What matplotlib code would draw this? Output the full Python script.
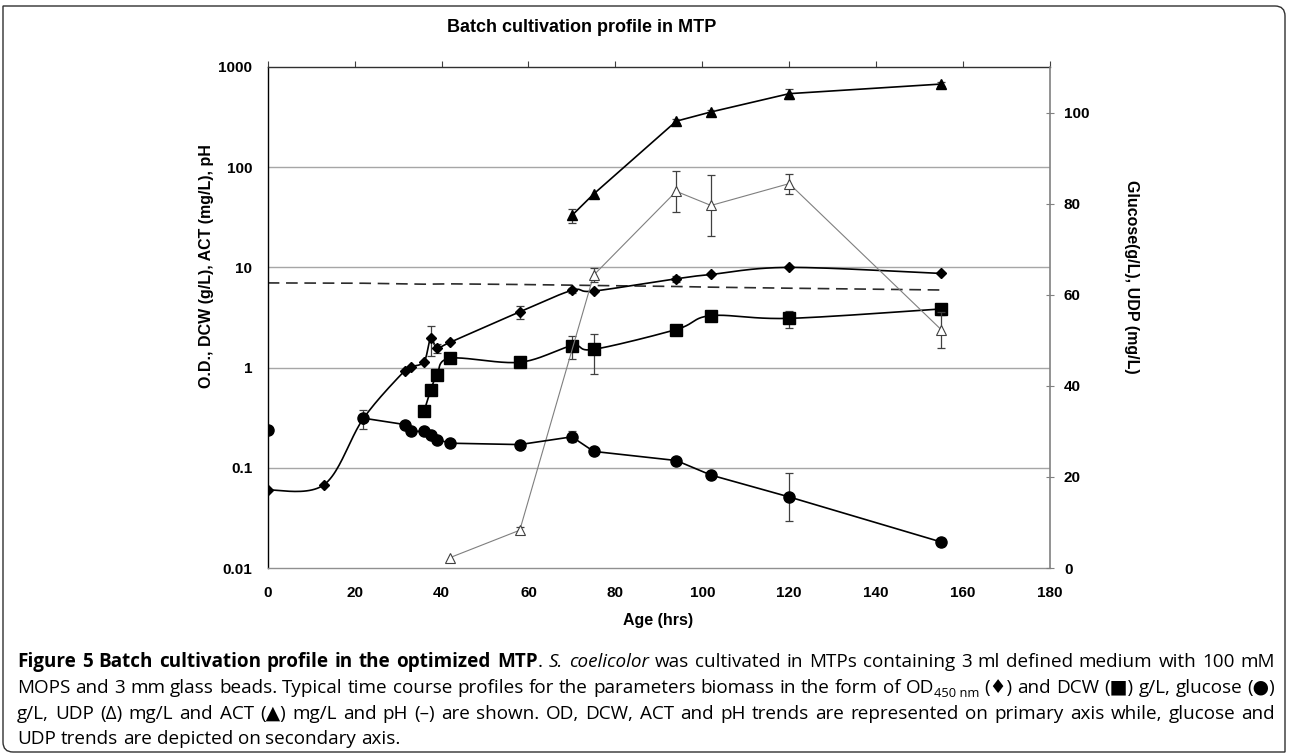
import numpy as np
import matplotlib
matplotlib.use('Agg')
import matplotlib.pyplot as plt
from matplotlib.path import Path
from matplotlib.patches import PathPatch

# ---- data ----
# OD450 (diamonds, left log axis)
t_od = [0, 13, 22, 31.5, 33, 36, 37.5, 39, 42, 58, 70, 75, 94, 102, 120, 155]
od = [0.06, 0.068, 0.31, 0.93, 1.02, 1.15, 1.96, 1.56, 1.79, 3.6, 5.9, 5.8, 7.7, 8.5, 10.0, 8.7]
od_err = [0, 0, 0.065, 0, 0, 0, 0.65, 0.15, 0, 0.55, 0.4, 0, 0.6, 0, 0, 0]

# DCW g/L (squares, left axis)
t_dcw = [36, 37.5, 39, 42, 58, 70, 75, 94, 102, 120, 155]
dcw = [0.37, 0.6, 0.85, 1.24, 1.13, 1.65, 1.52, 2.4, 3.3, 3.1, 3.85]
dcw_err = [0, 0, 0, 0, 0, 0.42, 0.65, 0, 0, 0.6, 0.5]

# ACT mg/L (filled triangles, left axis)
t_act = [70, 75, 94, 102, 120, 155]
act = [33, 54, 288, 356, 542, 676]
act_err = [5, 0, 15, 20, 60, 30]

# pH (dashed, left axis)
t_ph = [0, 22, 36, 42, 58, 70, 75, 94, 102, 120, 155]
ph = [7.0, 6.95, 6.8, 6.85, 6.75, 6.65, 6.6, 6.45, 6.35, 6.2, 5.95]

# glucose g/L (circles, right axis); the t=0 point stands alone
t_glc = [0, 22, 31.5, 33, 36, 37.5, 39, 42, 58, 70, 75, 94, 102, 120, 155]
glc = [30.2, 32.9, 31.5, 30.0, 30.0, 29.2, 28.2, 27.4, 27.1, 28.8, 25.6, 23.6, 20.4, 15.6, 5.7]
glc_err = [0, 0, 0, 0, 0, 0, 0, 0, 0.8, 1.2, 0, 0, 0, 5.2, 0.9]

# UDP mg/L (open triangles, right axis)
t_udp = [42, 58, 75, 94, 102, 120, 155]
udp = [2.3, 8.3, 64.3, 82.7, 79.6, 84.4, 52.3]
udp_err = [0, 0.8, 1.5, 4.5, 6.7, 2.2, 4.0]

x_ticks = [0, 20, 40, 60, 80, 100, 120, 140, 160, 180]
left_ticks = [0.01, 0.1, 1, 10, 100, 1000]
left_labels = ['0.01', '0.1', '1', '10', '100', '1000']
right_ticks = [0, 20, 40, 60, 80, 100]

W, H = 1289, 756
plt.rcParams['font.family'] = ['Liberation Sans', 'DejaVu Sans']
fig = plt.figure(figsize=(W / 100, H / 100), dpi=100)


def fx(px):
    return px / W


def fy(py):
    return 1 - py / H


ax_l, ax_r, ax_t, ax_b = 267.7, 1050, 67, 568
ax = fig.add_axes([fx(ax_l), fy(ax_b), (ax_r - ax_l) / W, (ax_b - ax_t) / H])
ax2 = ax.twinx()

ax.set_yscale('log')
ax.set_xlim(0, 180)
ax.set_ylim(0.01, 1000)
ax2.set_ylim(0, 110)


def smooth_curve(xs, ys, logy, n=24):
    # Excel-like smoothed line: Catmull-Rom beziers in screen proportions
    sx = (ax_r - ax_l) / 180.0
    u = np.asarray(xs, float) * sx
    if logy:
        v = (np.log10(ys) + 2) / 5 * (ax_b - ax_t)
    else:
        v = np.asarray(ys, float) / 110 * (ax_b - ax_t)
    P = np.column_stack([u, v])
    P = np.vstack([P[0], P, P[-1]])
    out = []
    tt = np.linspace(0, 1, n)
    for i in range(1, len(P) - 2):
        p0, p1, p2, p3 = P[i - 1], P[i], P[i + 1], P[i + 2]
        c1 = p1 + (p2 - p0) / 6
        c2 = p2 - (p3 - p1) / 6
        seg = ((1 - tt) ** 3)[:, None] * p1 + (3 * (1 - tt) ** 2 * tt)[:, None] * c1 \
            + (3 * (1 - tt) * tt ** 2)[:, None] * c2 + (tt ** 3)[:, None] * p2
        out.append(seg if i == 1 else seg[1:])
    C = np.vstack(out)
    cx = C[:, 0] / sx
    if logy:
        cy = 10 ** (C[:, 1] / (ax_b - ax_t) * 5 - 2)
    else:
        cy = C[:, 1] / (ax_b - ax_t) * 110
    return cx, cy


ebar = dict(ecolor='#404040', elinewidth=0.9, capsize=3, capthick=0.9, ls='none')


def errs(vals, err):
    v = np.asarray(vals, float)
    e = np.asarray(err, float)
    return np.ma.masked_where(e == 0, v), e


# left axis series
ax.plot(t_ph, ph, ls=(0, (7, 4)), color='#2b2b2b', lw=1.2, zorder=2)

cx, cy = smooth_curve(t_od, od, True)
ax.plot(cx, cy, color='black', lw=1.2, zorder=3)
v, e = errs(od, od_err)
ax.errorbar(t_od, v, yerr=e, zorder=3, **ebar)
ax.plot(t_od, od, ls='none', marker='D', ms=5, color='black', zorder=4)

cx, cy = smooth_curve(t_dcw, dcw, True)
ax.plot(cx, cy, color='black', lw=1.2, zorder=3)
v, e = errs(dcw, dcw_err)
ax.errorbar(t_dcw, v, yerr=e, zorder=3, **ebar)
ax.plot(t_dcw, dcw, ls='none', marker='s', ms=8, color='black', zorder=4)

ax.plot(t_act, act, color='black', lw=1.2, zorder=3)
v, e = errs(act, act_err)
ax.errorbar(t_act, v, yerr=e, zorder=3, **ebar)
ax.plot(t_act, act, ls='none', marker='^', ms=7.5, color='black', zorder=4)

# right axis series
ax2.plot(t_udp, udp, color='#7f7f7f', lw=0.8, zorder=2)
v, e = errs(udp, udp_err)
ax2.errorbar(t_udp, v, yerr=e, zorder=3, **ebar)
ax2.plot(t_udp, udp, ls='none', marker='^', ms=7.5, mfc='white', mec='#404040',
         mew=0.8, zorder=4)

ax2.plot(t_glc[1:], glc[1:], color='black', lw=1.2, zorder=3)
v, e = errs(glc, glc_err)
ax2.errorbar(t_glc, v, yerr=e, zorder=3, **ebar)
ax2.plot(t_glc, glc, ls='none', marker='o', ms=8, color='black', zorder=4)

# grid and axes styling
for g in [0.1, 1, 10, 100]:
    ax.axhline(g, color='#a6a6a6', lw=1.0, zorder=0)

ax.set_xticks(x_ticks)
ax.set_xticklabels([str(t) for t in x_ticks], fontweight='bold', fontsize=11)
ax.tick_params(axis='x', bottom=False, top=True, direction='out', length=4,
               width=0.8, color='#404040', pad=9, labelbottom=True, labeltop=False)
ax.set_yticks(left_ticks)
ax.set_yticklabels(left_labels, fontweight='bold', fontsize=11)
ax.yaxis.set_minor_locator(matplotlib.ticker.NullLocator())
ax.tick_params(axis='y', which='major', length=0, pad=11)

ax2.set_yticks(right_ticks)
ax2.set_yticklabels([str(t) for t in right_ticks], fontweight='bold', fontsize=11)
ax2.tick_params(axis='y', direction='inout', length=6, width=0.8,
                color='#808080', pad=7)

ax.spines['left'].set_color('black')
ax.spines['top'].set_color('#303030')
ax.spines['bottom'].set_color('#909090')
ax.spines['right'].set_visible(False)
ax2.spines['right'].set_color('#808080')
for sp in ['left', 'top', 'bottom']:
    ax2.spines[sp].set_visible(False)
for s in ax.spines.values():
    s.set_linewidth(1.0)
ax2.spines['right'].set_linewidth(1.2)

fig.text(fx(582), fy(28), 'Batch cultivation profile in MTP', ha='center', va='center',
         fontweight='bold', fontsize=13)
fig.text(fx(658), fy(621), 'Age (hrs)', ha='center', va='center',
         fontweight='bold', fontsize=11.5)
fig.text(fx(207), fy(266), 'O.D., DCW (g/L), ACT (mg/L), pH', ha='center', va='center',
         rotation=90, fontweight='bold', fontsize=11.5)
fig.text(fx(1131), fy(277), 'Glucose(g/L), UDP (mg/L)', ha='center', va='center',
         rotation=270, fontweight='bold', fontsize=11.5)

# figure frame (rounded top-right and bottom-left corners)
r = 10
x0, x1, y0, y1 = 3, 1285, 6, 752
verts = [(x0, y0), (x1 - r, y0), (x1, y0), (x1, y0 + r), (x1, y1), (x0 + r, y1),
         (x0, y1), (x0, y1 - r), (x0, y0)]
codes = [Path.MOVETO, Path.LINETO, Path.CURVE3, Path.CURVE3, Path.LINETO, Path.LINETO,
         Path.CURVE3, Path.CURVE3, Path.CLOSEPOLY]
frame = Path([(fx(a), fy(b)) for a, b in verts], codes)
fig.patches.append(PathPatch(frame, transform=fig.transFigure, fill=False,
                             lw=1.0, edgecolor='#303030'))

# caption, justified like the journal layout
cap_lines = [
    [('Figure 5 Batch cultivation profile in the optimized MTP', 'b'), ('. ', 'n'),
     ('S. coelicolor', 'i'),
     (' was cultivated in MTPs containing 3 ml defined medium with 100 mM', 'n')],
    [('MOPS and 3 mm glass beads. Typical time course profiles for the parameters '
      'biomass in the form of OD', 'n'), ('450 nm', 'sub'),
     (' (\u2666) and DCW (\u25a0) g/L, glucose (\u25cf)', 'n')],
    [('g/L, UDP (\u0394) mg/L and ACT (\u25b2) mg/L and pH (\u2013) are shown. OD, DCW, '
      'ACT and pH trends are represented on primary axis while, glucose and', 'n')],
    [('UDP trends are depicted on secondary axis.', 'n')],
]
cap_base = [667, 693, 719, 744]
cap_left, cap_right = 17, 1275
cap_fam = ['Open Sans', 'DejaVu Sans']


def split_words(segs):
    words, cur = [], []
    for text, st in segs:
        if st == 'sub':
            cur.append((text, st))
            continue
        parts = text.split(' ')
        for k, p in enumerate(parts):
            if k > 0 and cur:
                words.append(cur)
                cur = []
            if p:
                cur.append((p, st))
    if cur:
        words.append(cur)
    return words


renderer = fig.canvas.get_renderer()


def piece_kw(st, size):
    kw = dict(family=cap_fam, fontsize=size)
    if st == 'b':
        kw['fontweight'] = 'bold'
    if st == 'i':
        kw['fontstyle'] = 'italic'
    if st == 'sub':
        kw['fontsize'] = size * 0.68
    return kw


def measure(text, st, size):
    t = fig.text(0, 0, text, **piece_kw(st, size))
    w = t.get_window_extent(renderer).width
    t.remove()
    return w


def line_width(words, size):
    sp = measure('a a', 'n', size) - measure('aa', 'n', size)
    return sum(sum(measure(p, s, size) for p, s in w) for w in words) + sp * (len(words) - 1)


all_words = [split_words(l) for l in cap_lines]
size = 12.0
target = cap_right - cap_left
widest = max(line_width(w, size) for w in all_words[:3])
size = size * (target - 6) / widest

for i, words in enumerate(all_words):
    widths = [[measure(p, s, size) for p, s in w] for w in words]
    tot = sum(sum(w) for w in widths)
    if i < 3:
        gap = (target - tot) / (len(words) - 1)
    else:
        gap = measure('a a', 'n', size) - measure('aa', 'n', size)
    x = cap_left
    for w, ws in zip(words, widths):
        for (p, s), pw in zip(w, ws):
            yb = cap_base[i] + (4 if s == 'sub' else 0)
            fig.text(fx(x), fy(yb), p, va='baseline', ha='left', **piece_kw(s, size))
            x += pw
        x += gap

fig.savefig('out.png', dpi=100)
